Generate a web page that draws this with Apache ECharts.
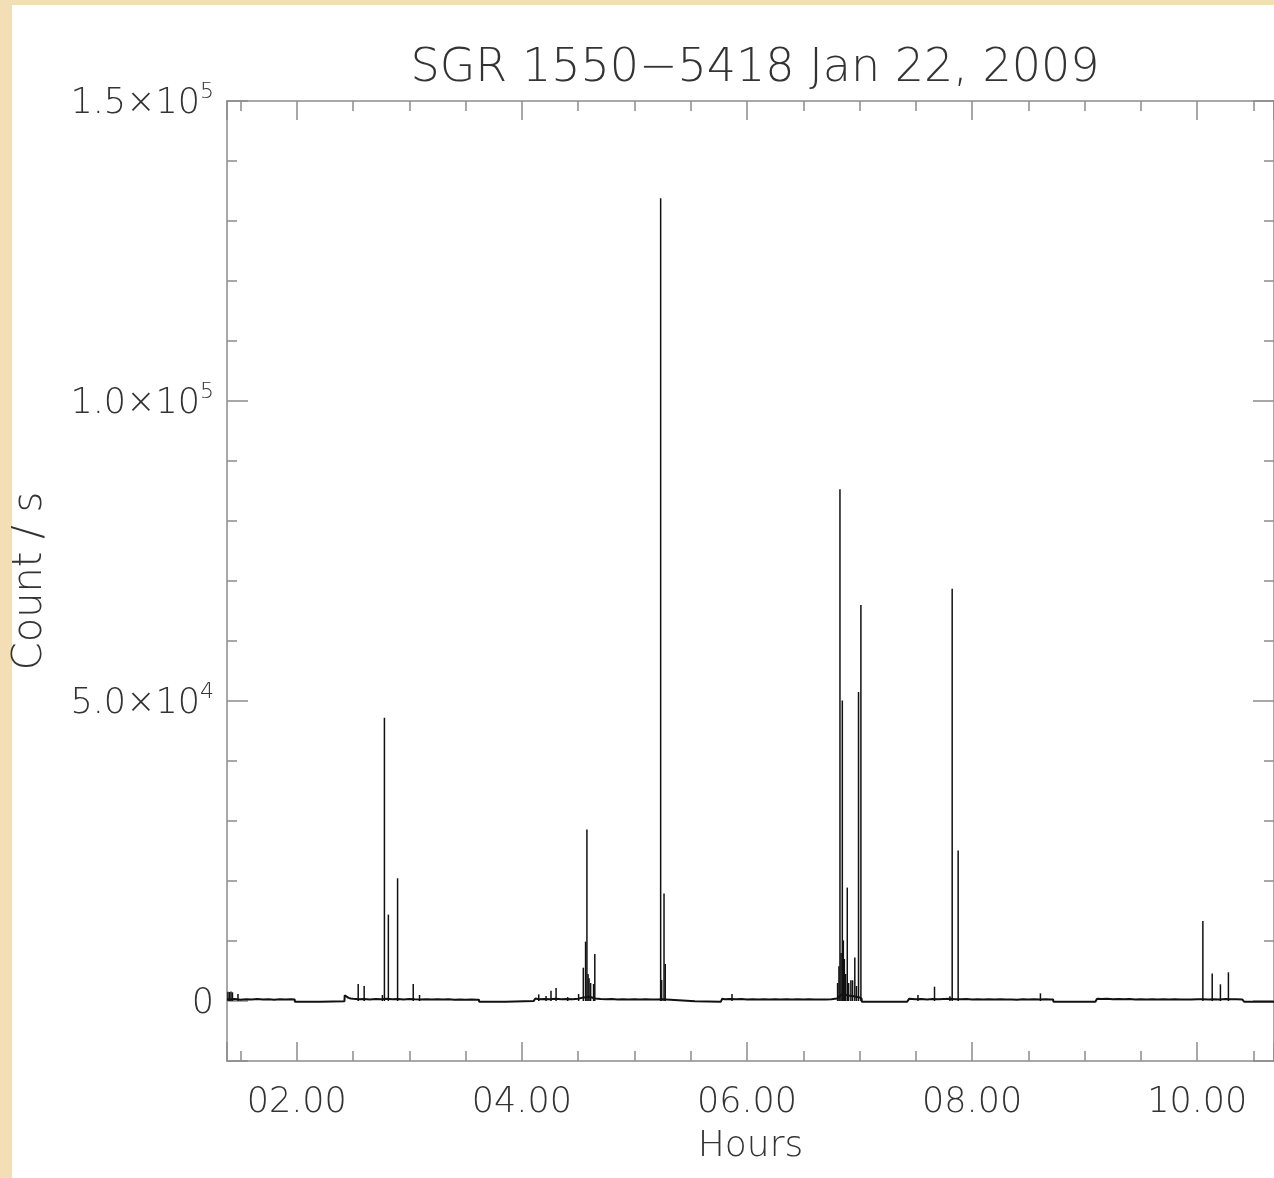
<!DOCTYPE html>
<html>
<head>
<meta charset="utf-8">
<script src="https://cdn.jsdelivr.net/npm/echarts@6/dist/echarts.min.js"></script>
<style>
  html, body { margin: 0; padding: 0; background: #f3dfb6; }
  #chart { width: 1274px; height: 1178px; }
</style>
</head>
<body>
<div id="chart"></div>
<script>
// ---- Data (hours UT, counts / s) ----
const chartTitle = 'SGR 1550\u22125418 Jan 22, 2009';
const xAxisName = 'Hours';
const yAxisName = 'Count / s';

// Background / baseline level (including the flat data-gap stretches)
const baseHours = [
  1.381, 1.40, 1.45, 1.50, 1.55, 1.60, 1.65, 1.70, 1.75, 1.80, 1.85, 1.90, 1.95, 1.982,
  1.984, 2.21, 2.214, 2.424,
  2.426, 2.44, 2.46, 2.48, 2.50, 2.55, 2.60, 2.65, 2.70, 2.75, 2.80, 2.85, 2.90, 2.95,
  3.00, 3.05, 3.10, 3.15, 3.20, 3.25, 3.30, 3.35, 3.40, 3.45, 3.50, 3.55, 3.60, 3.619,
  3.621, 3.856, 3.86, 4.104,
  4.106, 4.12, 4.15, 4.20, 4.25, 4.30, 4.35, 4.40, 4.45, 4.50, 4.55, 4.60, 4.65, 4.70,
  4.75, 4.80, 4.85, 4.90, 4.95, 5.00, 5.05, 5.10, 5.15, 5.20, 5.25, 5.283,
  5.285, 5.538, 5.542, 5.768,
  5.770, 5.78, 5.80, 5.85, 5.90, 5.95, 6.00, 6.05, 6.10, 6.15, 6.20, 6.25, 6.30, 6.35,
  6.40, 6.45, 6.50, 6.55, 6.60, 6.65, 6.70, 6.75, 6.80, 6.85, 6.90, 6.95, 7.00, 7.018,
  7.020, 7.423,
  7.425, 7.44, 7.50, 7.55, 7.60, 7.65, 7.70, 7.75, 7.80, 7.85, 7.90, 7.95, 8.00, 8.05,
  8.10, 8.15, 8.20, 8.25, 8.30, 8.35, 8.40, 8.45, 8.50, 8.55, 8.60, 8.65, 8.70, 8.719,
  8.723, 9.095,
  9.097, 9.11, 9.15, 9.20, 9.25, 9.30, 9.35, 9.40, 9.45, 9.50, 9.55, 9.60, 9.65, 9.70,
  9.75, 9.80, 9.85, 9.90, 9.95, 10.00, 10.05, 10.10, 10.15, 10.20, 10.25, 10.30, 10.35,
  10.40, 10.414,
  10.418, 10.682
];
const baseCounts = [
  320, 260, 340, 220, 300, 250, 330, 240, 290, 210, 310, 240, 280, 230,
  -130, -130, -30, -30,
  950, 700, 520, 420, 360, 300, 340, 260, 320, 280, 380, 300, 350, 270,
  330, 290, 260, 310, 240, 290, 230, 280, 220, 260, 200, 250, 210, 220,
  -130, -130, -20, -20,
  200, 420, 300, 350, 280, 360, 300, 340, 280, 380, 600, 700, 420, 330,
  290, 320, 260, 300, 250, 290, 240, 280, 230, 270, 300, 260,
  -40, -40, -110, -110,
  200, 380, 300, 350, 280, 330, 260, 310, 240, 300, 260, 290, 230, 280,
  240, 290, 250, 280, 230, 270, 240, 300, 400, 1200, 900, 800, 600, 400,
  -130, -130,
  200, 360, 300, 340, 270, 320, 280, 330, 360, 300, 280, 320, 250, 300,
  240, 290, 230, 280, 240, 270, 220, 280, 250, 300, 260, 310, 250, 240,
  -130, -130,
  200, 380, 320, 360, 290, 340, 280, 330, 270, 310, 250, 300, 240, 290,
  230, 280, 240, 270, 230, 280, 300, 260, 310, 270, 320, 280, 300,
  260, 240,
  -130, -130
];

// Individual bursts (peak count rate)
const burstHours = [
  1.389, 1.403, 1.416, 1.429, 1.478,
  2.546, 2.599, 2.761, 2.779, 2.814, 2.896, 3.035, 3.091,
  4.150, 4.215, 4.259, 4.304, 4.407, 4.504, 4.546, 4.566, 4.578, 4.588, 4.597, 4.611,
  4.637, 4.648,
  5.233, 5.242, 5.263, 5.274,
  5.867,
  6.805, 6.817, 6.826, 6.836, 6.847, 6.856, 6.865, 6.876, 6.891, 6.903, 6.923, 6.938,
  6.958, 6.973, 6.991, 7.012,
  7.519, 7.666, 7.803, 7.823, 7.876, 8.607,
  10.050, 10.133, 10.206, 10.277
];
const burstPeaks = [
  1550, 1500, 1600, 1450, 1170,
  2830, 2500, 1000, 47200, 14400, 20450, 2830, 1000,
  1100, 830, 1720, 2170, 650, 1170, 5550, 9900, 28600, 4500, 3780, 3000,
  2830, 7830,
  133800, 3500, 17900, 6170,
  1150,
  3000, 5800, 85300, 8000, 50100, 10100, 7000, 4500, 18900, 3000, 3450, 3450,
  7250, 2500, 51500, 66000,
  1000, 2380, 800, 68700, 25100, 1280,
  13330, 4600, 2780, 4780
];

const xMin = 1.3805, xMax = 10.682;
const yMin = -10000, yMax = 150000;

// ---- Build chart ----
const FONT = 'DejaVu Sans';
const TXT = '#333333';
const AX = '#8c8c8c';

const baseData = baseHours.map((h, i) => [h, baseCounts[i]]);
const burstData = burstHours.map((h, i) => [h, burstPeaks[i]]);

function xLabel(v) {
  const n = Math.round(v);
  return (n < 10 ? '0' : '') + n + '.00';
}
function yLabel(v) {
  if (v === 0) return '{b|0}';
  const e = Math.floor(Math.log10(Math.abs(v)) + 1e-9);
  const m = (v / Math.pow(10, e)).toFixed(1);
  return '{b|' + m + '\u00d710}{s|' + e + '}';
}

const axisLine = { show: true, onZero: false, lineStyle: { color: AX, width: 1.5 } };

const chart = echarts.init(document.getElementById('chart'), null, { renderer: 'canvas' });
chart.setOption({
  animation: false,
  backgroundColor: '#f3dfb6',
  graphic: [{
    type: 'rect', z: -100, silent: true,
    shape: { x: 12, y: 5, width: 1262, height: 1173 },
    style: { fill: '#ffffff' }
  }],
  title: {
    text: chartTitle,
    left: 750, top: 41, textAlign: 'center',
    textStyle: { fontFamily: FONT, fontSize: 46, fontWeight: 200, color: TXT }
  },
  grid: { left: 227, top: 101, width: 1051, height: 960, show: false },
  xAxis: [{
    type: 'value', position: 'bottom', min: xMin, max: xMax, splitNumber: 5,
    name: xAxisName, nameLocation: 'middle', nameGap: 68,
    nameTextStyle: { fontFamily: FONT, fontSize: 36, fontWeight: 200, color: TXT },
    axisLine: axisLine,
    axisTick: { show: true, inside: true, length: 19, lineStyle: { color: AX, width: 1.5 } },
    minorTick: { show: true, splitNumber: 4, length: 10, lineStyle: { color: AX, width: 1.5 } },
    splitLine: { show: false },
    axisLabel: {
      show: true, margin: 24, showMinLabel: false, showMaxLabel: false,
      fontFamily: FONT, fontSize: 35, fontWeight: 200, color: TXT,
      formatter: xLabel
    }
  }, {
    type: 'value', position: 'top', min: xMin, max: xMax, splitNumber: 5,
    axisLine: axisLine,
    axisTick: { show: true, inside: true, length: 19, lineStyle: { color: AX, width: 1.5 } },
    minorTick: { show: true, splitNumber: 4, length: 10, lineStyle: { color: AX, width: 1.5 } },
    splitLine: { show: false },
    axisLabel: { show: false }
  }],
  yAxis: [{
    type: 'value', position: 'left', min: yMin, max: yMax, splitNumber: 3,
    name: yAxisName, nameLocation: 'middle', nameGap: 176, nameRotate: 90,
    nameTextStyle: { fontFamily: FONT, fontSize: 40, fontWeight: 200, color: TXT },
    axisLine: axisLine,
    axisTick: { show: true, inside: true, length: 21, lineStyle: { color: AX, width: 1.5 } },
    minorTick: { show: true, splitNumber: 5, length: 10, lineStyle: { color: AX, width: 1.5 } },
    splitLine: { show: false },
    axisLabel: {
      show: true, margin: 13, showMinLabel: false,
      formatter: yLabel,
      rich: {
        b: { fontFamily: FONT, fontSize: 35, fontWeight: 200, color: TXT, lineHeight: 40, verticalAlign: 'bottom' },
        s: { fontFamily: FONT, fontSize: 22, fontWeight: 200, color: TXT, lineHeight: 40, verticalAlign: 'top' }
      }
    }
  }, {
    type: 'value', position: 'right', min: yMin, max: yMax, splitNumber: 3,
    axisLine: axisLine,
    axisTick: { show: true, inside: true, length: 21, lineStyle: { color: AX, width: 1.5 } },
    minorTick: { show: true, splitNumber: 5, length: 10, lineStyle: { color: AX, width: 1.5 } },
    splitLine: { show: false },
    axisLabel: { show: false }
  }],
  series: [{
    name: 'bursts', type: 'bar', xAxisIndex: 0, yAxisIndex: 0,
    data: burstData, barWidth: 1.5, z: 3,
    itemStyle: { color: '#111111' }
  }, {
    name: 'background', type: 'line', xAxisIndex: 0, yAxisIndex: 0,
    data: baseData, showSymbol: false, z: 4,
    lineStyle: { color: '#111111', width: 2 }
  }]
});
</script>
</body>
</html>
